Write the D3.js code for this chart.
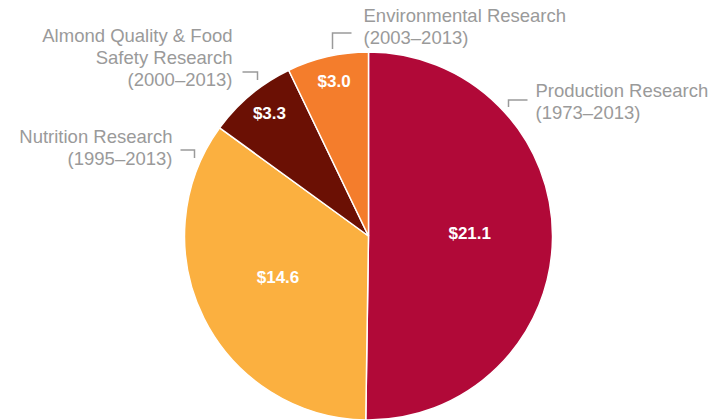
<!DOCTYPE html>
<html>
<head>
<meta charset="utf-8">
<script src="https://cdn.jsdelivr.net/npm/d3@7"></script>
<style>
  body { margin: 0; background: #fff; }
  svg { display: block; }
</style>
</head>
<body>
<div id="chart-container"></div>
<script>
// research funding by area ($ millions)
const categories = ['Production Research', 'Nutrition Research', 'Almond Quality & Food Safety Research', 'Environmental Research'];
const values = [21.1, 14.6, 3.3, 3.0];
const labelLines = [
  ['Production Research', '(1973\u20132013)'],
  ['Nutrition Research', '(1995\u20132013)'],
  ['Almond Quality & Food', 'Safety Research', '(2000\u20132013)'],
  ['Environmental Research', '(2003\u20132013)']
];
const colors = ['#b10938', '#fbb040', '#6b1004', '#f47d2c'];

const width = 713, height = 420;
const cx = 368.5, cy = 236, radius = 184;

// where each callout sits, relative to the pie centre
const callouts = [
  { corner: [140, -136], arm: [19, 7], text: [167, -139], anchor: 'start' },
  { corner: [-174, -86], arm: [-14, 8], text: [-196, -93], anchor: 'end' },
  { corner: [-111, -164], arm: [-15, 8], text: [-136, -194], anchor: 'end' },
  { corner: [-36, -203], arm: [19, 16], text: [-5, -214], anchor: 'start' }
];

const svg = d3.select('#chart-container')
  .append('svg')
  .attr('width', width)
  .attr('height', height);

const g = svg.append('g')
  .attr('transform', 'translate(' + cx + ',' + cy + ')');

const pie = d3.pie().sort(null).value(d => d)(values);
const arc = d3.arc().innerRadius(0).outerRadius(radius);

g.selectAll('path.slice')
  .data(pie)
  .join('path')
  .attr('class', 'slice')
  .attr('d', arc)
  .attr('fill', (d, i) => colors[i])
  .attr('stroke', '#fff')
  .attr('stroke-width', 1.5);

// value labels
g.selectAll('text.value')
  .data(pie)
  .join('text')
  .attr('class', 'value')
  .attr('transform', function (d) {
    let span = d.endAngle - d.startAngle;
    let r = span < 0.6 ? radius * 0.84 : radius * 0.55;
    let c = d3.arc().innerRadius(r).outerRadius(r).centroid(d);
    return 'translate(' + c[0] + ',' + (c[1] + 2) + ')';
  })
  .attr('text-anchor', 'middle')
  .style('font-family', 'Liberation Sans, Arial, Helvetica, sans-serif')
  .style('font-weight', 'bold')
  .style('font-size', '17px')
  .attr('fill', '#fff')
  .text(d => '$' + d.value.toFixed(1));

// callout brackets
g.selectAll('path.leader')
  .data(callouts)
  .join('path')
  .attr('class', 'leader')
  .attr('d', d => 'M' + (d.corner[0] + d.arm[0]) + ',' + d.corner[1] +
    'H' + d.corner[0] + 'V' + (d.corner[1] + d.arm[1]))
  .attr('fill', 'none')
  .attr('stroke', '#9a9a9a')
  .attr('stroke-width', 1.5);

// callout text
let labels = g.selectAll('text.label')
  .data(callouts)
  .join('text')
  .attr('class', 'label')
  .attr('x', d => d.text[0])
  .attr('y', d => d.text[1])
  .attr('text-anchor', d => d.anchor)
  .style('font-family', 'Liberation Sans, Arial, Helvetica, sans-serif')
  .style('font-size', '18.5px')
  .attr('fill', '#9a9a9a');

labels.each(function (d, i) {
  d3.select(this).selectAll('tspan')
    .data(labelLines[i])
    .join('tspan')
    .attr('x', d.text[0])
    .attr('dy', (t, j) => j === 0 ? 0 : 22)
    .text(t => t);
});
</script>
</body>
</html>
